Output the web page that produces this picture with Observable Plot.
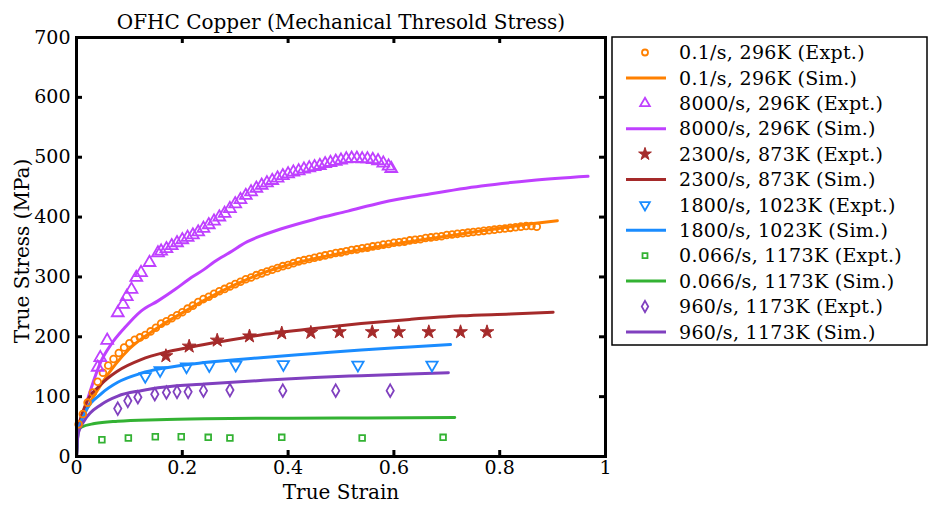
<!DOCTYPE html>
<html>
<head>
<meta charset="utf-8">
<script src="https://cdn.jsdelivr.net/npm/d3@7"></script>
<script src="https://cdn.jsdelivr.net/npm/@observablehq/plot@0.6"></script>
<style>
  html, body { margin: 0; padding: 0; background: #fff; }
  #chart { width: 928px; height: 511px; }
</style>
</head>
<body>
<div id="chart"></div>
<script>
// ---------- data ----------
const title = "OFHC Copper (Mechanical Thresold Stress)";
const xLabel = "True Strain";
const yLabel = "True Stress (MPa)";
const xTicks = [0, 0.2, 0.4, 0.6, 0.8, 1];
const xTickLabels = ["0", "0.2", "0.4", "0.6", "0.8", "1"];
const yTicks = [0, 100, 200, 300, 400, 500, 600, 700];

const seriesNames = [
  "0.1/s, 296K (Expt.)", "0.1/s, 296K (Sim.)",
  "8000/s, 296K (Expt.)", "8000/s, 296K (Sim.)",
  "2300/s, 873K (Expt.)", "2300/s, 873K (Sim.)",
  "1800/s, 1023K (Expt.)", "1800/s, 1023K (Sim.)",
  "0.066/s, 1173K (Expt.)", "0.066/s, 1173K (Sim.)",
  "960/s, 1173K (Expt.)", "960/s, 1173K (Sim.)"
];
const seriesColors = ["#FF8000", "#BF40FF", "#A52A2A", "#1A8CFF", "#33B233", "#8040BF"];

// experiments: [strain, stress]
const expt_01_296 = [[0.004,54],[0.012,71],[0.021,90],[0.031,107],[0.040,125],[0.05,140],[0.06,152],[0.07,163],[0.08,173],[0.09,182],
  [0.10,189],[0.11,195],[0.12,199],[0.13,203],[0.14,209],[0.15,215],[0.16,222],[0.17,226],[0.18,231],[0.19,236],
  [0.20,241],[0.21,247],[0.22,252],[0.23,258],[0.24,263],[0.25,267],[0.26,272],[0.27,276],[0.28,280],[0.29,284],
  [0.30,288],[0.31,292],[0.32,296],[0.33,299],[0.34,303],[0.35,306],[0.36,309],[0.37,312],[0.38,315],[0.39,318],
  [0.40,320],[0.41,323],[0.42,326],[0.43,328],[0.44,330],[0.45,332],[0.46,334],[0.47,336],[0.48,338],[0.49,340],
  [0.50,341],[0.51,343],[0.52,345],[0.53,346],[0.54,348],[0.55,349],[0.56,351],[0.57,352],[0.58,354],[0.59,355],
  [0.60,357],[0.61,358],[0.62,359],[0.63,361],[0.64,362],[0.65,363],[0.66,365],[0.67,366],[0.68,367],[0.69,368],
  [0.70,370],[0.71,371],[0.72,372],[0.73,373],[0.74,374],[0.75,375],[0.76,376],[0.77,377],[0.78,378],[0.79,379],
  [0.80,380],[0.81,381],[0.82,382],[0.83,383],[0.84,384],[0.85,385],[0.86,385],[0.87,384]];
const expt_8000_296 = [[0.040,149],[0.045,165],[0.058,194],[0.078,240],[0.088,254],[0.095,267],[0.104,279],[0.113,299],[0.122,307],[0.138,324],
  [0.154,340],[0.16,343],[0.17,347],[0.18,352],[0.19,357],[0.20,362],[0.21,366],[0.22,370],[0.23,375],[0.24,381],
  [0.25,387],[0.26,393],[0.27,400],[0.28,406],[0.29,414],[0.30,422],[0.31,429],[0.32,436],[0.33,442],[0.34,448],
  [0.35,453],[0.36,457],[0.37,461],[0.38,465],[0.39,469],[0.40,472],[0.41,475],[0.42,477],[0.43,480],[0.44,482],
  [0.45,484],[0.46,486],[0.47,489],[0.48,491],[0.49,493],[0.50,495],[0.51,497],[0.52,498],[0.53,498],[0.54,497],
  [0.55,497],[0.56,496],[0.57,494],[0.58,490],[0.59,485],[0.595,481]];
const expt_2300_873 = [[0.169,168],[0.213,184],[0.266,194],[0.327,201],[0.388,206],[0.443,207],[0.497,208],[0.559,208],[0.609,208],[0.666,208],[0.726,208],[0.776,208]];
const expt_1800_1023 = [[0.13,134],[0.158,144],[0.208,150],[0.251,152],[0.301,153],[0.391,154],[0.532,153],[0.672,153]];
const expt_0066_1173 = [[0.048,28],[0.098,31],[0.149,33],[0.198,33],[0.249,32],[0.29,31],[0.388,32],[0.54,31],[0.693,32]];
const expt_960_1173 = [[0.078,80],[0.097,93],[0.116,99],[0.148,104],[0.17,107],[0.19,108],[0.211,108],[0.24,110],[0.29,111],[0.39,110],[0.49,110],[0.593,110]];

// simulations: [strain, stress]
const sim_01_296 = [[0,0],[0.003,45],[0.02,80],[0.05,125],[0.1,180],[0.15,213],[0.2,240],[0.25,265],[0.3,287],[0.35,306],[0.4,320],[0.48,336],[0.6,355],[0.73,372],[0.86,389],[0.909,394]];
const sim_8000_296 = [[0,0],[0.003,42],[0.009,60],[0.028,115],[0.047,160],[0.066,188],[0.091,215],[0.122,243],[0.154,260],[0.186,279],[0.217,299],[0.242,313],[0.26,325],[0.29,341],[0.323,359],[0.35,369],[0.386,380],[0.449,396],[0.513,410],[0.576,424],[0.67,439],[0.765,452],[0.86,461],[0.967,468]];
const sim_2300_873 = [[0,0],[0.003,42],[0.015,82],[0.047,121],[0.078,143],[0.122,162],[0.167,174],[0.217,183],[0.273,192],[0.348,203],[0.45,214],[0.538,222],[0.63,229],[0.727,235],[0.82,238],[0.901,241]];
const sim_1800_1023 = [[0,0],[0.003,40],[0.015,71],[0.047,105],[0.078,124],[0.122,139],[0.167,148],[0.242,157],[0.348,165],[0.45,172],[0.538,178],[0.63,183],[0.707,187]];
const sim_0066_1173 = [[0,0],[0.002,40],[0.009,49],[0.034,55],[0.078,59],[0.154,61.5],[0.242,63],[0.4,64],[0.55,64.5],[0.715,65]];
const sim_960_1173 = [[0,0],[0.003,38],[0.015,60],[0.047,87],[0.078,101],[0.122,110],[0.167,116],[0.242,121],[0.348,127],[0.45,132],[0.538,135],[0.63,138],[0.703,140]];

// ---------- symbols ----------
const triangleDown = {
  draw(context, size) {
    const h = Math.sqrt(size / (3 * Math.sqrt(3)));
    context.moveTo(0, 2 * h);
    context.lineTo(-Math.sqrt(3) * h, -h);
    context.lineTo(Math.sqrt(3) * h, -h);
    context.closePath();
  }
};

const experiments = [
  {data: expt_01_296, symbol: d3.symbolCircle, r: 3.4, fill: false, lr: 3},
  {data: expt_8000_296, symbol: d3.symbolTriangle, r: 4.4, fill: false, lr: 3.6},
  {data: expt_2300_873, symbol: d3.symbolStar, r: 4.3, fill: true, lr: 4},
  {data: expt_1800_1023, symbol: triangleDown, r: 4.2, fill: false, lr: 3.6},
  {data: expt_0066_1173, symbol: d3.symbolSquare, r: 3.2, fill: false, lr: 2.8},
  {data: expt_960_1173, symbol: d3.symbolDiamond, r: 3.8, fill: false, lr: 3.4}
];
const simulations = [sim_01_296, sim_8000_296, sim_2300_873, sim_1800_1023, sim_0066_1173, sim_960_1173];

const toRows = (arr) => arr.map(([x, y]) => ({x, y}));

const plotW = 928, plotH = 511;
const mL = 76, mR = 323, mT = 37, mB = 55;
const innerW = plotW - mL - mR, innerH = plotH - mT - mB;
const tickLen = 6;

const marks = [];
simulations.forEach((s, i) => {
  marks.push(Plot.line(toRows(s), {x: "x", y: "y", stroke: seriesColors[i], strokeWidth: 3, curve: "monotone-x"}));
});
experiments.forEach((e, i) => {
  marks.push(Plot.dot(toRows(e.data), {
    x: "x", y: "y", symbol: e.symbol, r: e.r,
    stroke: seriesColors[i], strokeWidth: e.fill ? 1 : 1.8,
    fill: e.fill ? seriesColors[i] : "none"
  }));
});
marks.push(
  Plot.frame({stroke: "black", strokeWidth: 3}),
  Plot.tickX(xTicks, {x: d => d, insetTop: innerH - tickLen, stroke: "black", strokeWidth: 3}),
  Plot.tickX(xTicks, {x: d => d, insetBottom: innerH - tickLen, stroke: "black", strokeWidth: 3}),
  Plot.tickY(yTicks, {y: d => d, insetRight: innerW - tickLen, stroke: "black", strokeWidth: 3}),
  Plot.tickY(yTicks, {y: d => d, insetLeft: innerW - tickLen, stroke: "black", strokeWidth: 3}),
  Plot.axisX({ticks: xTicks, tickSize: 0, tickPadding: 4, tickFormat: d => xTickLabels[xTicks.indexOf(d)], label: null, fontSize: 19}),
  Plot.axisY({ticks: yTicks, tickSize: 0, tickPadding: 6, label: null, fontSize: 19}),
  Plot.text([title], {frameAnchor: "top", dy: -23, fontSize: 20, fill: "black"}),
  Plot.text([xLabel], {frameAnchor: "bottom", dy: 42, fontSize: 20, fill: "black"}),
  Plot.text([yLabel], {frameAnchor: "left", textAnchor: "middle", dx: -54, dy: 4, rotate: -90, fontSize: 20, fill: "black"})
);

const svg = Plot.plot({
  width: plotW, height: plotH,
  marginLeft: mL, marginRight: mR, marginTop: mT, marginBottom: mB,
  x: {domain: [0, 1]},
  y: {domain: [0, 700]},
  style: {fontFamily: "'DejaVu Serif', serif", fontSize: "19px", color: "black", background: "white"},
  marks
});

// ---------- legend ----------
const lg = d3.select(svg).append("g").attr("class", "legend");
const lgX = 612, lgY = 37, lgW = 315, lgH = 308;
lg.append("rect").attr("x", lgX).attr("y", lgY).attr("width", lgW).attr("height", lgH)
  .attr("fill", "white").attr("stroke", "black").attr("stroke-width", 1.5);
const rowH = 25.4, row0 = 52.5;
seriesNames.forEach((name, k) => {
  const i = Math.floor(k / 2);
  const y = row0 + k * rowH;
  if (k % 2 === 0) {
    const e = experiments[i];
    lg.append("path")
      .attr("d", d3.symbol(e.symbol, Math.PI * e.lr * e.lr)())
      .attr("transform", `translate(${lgX + 33},${y})`)
      .attr("fill", e.fill ? seriesColors[i] : "none")
      .attr("stroke", seriesColors[i]).attr("stroke-width", e.fill ? 1 : 1.8);
  } else {
    lg.append("line").attr("x1", lgX + 14).attr("x2", lgX + 54).attr("y1", y).attr("y2", y)
      .attr("stroke", seriesColors[i]).attr("stroke-width", 3);
  }
  lg.append("text").attr("x", lgX + 67).attr("y", y).attr("dy", "0.35em")
    .attr("text-anchor", "start").attr("letter-spacing", "0.3px")
    .attr("font-size", 19).attr("fill", "black").text(name);
});

document.getElementById("chart").appendChild(svg);
</script>
</body>
</html>
